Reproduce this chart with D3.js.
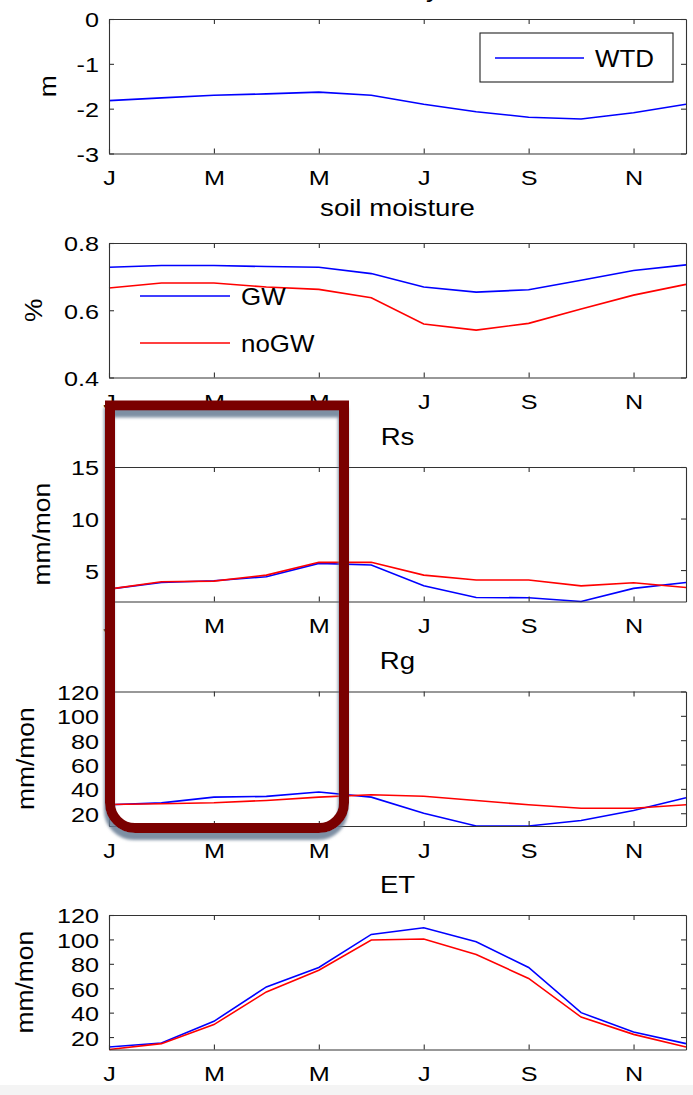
<!DOCTYPE html>
<html><head><meta charset="utf-8">
<script src="https://cdn.jsdelivr.net/npm/d3@7"></script>
<style>
html,body{margin:0;padding:0;background:#fff;}
svg{display:block;}
text{font-family:"Liberation Sans",Arial,Helvetica,sans-serif;fill:#000;}
</style></head>
<body><svg id="c" width="693" height="1095"></svg>
<script>
// ---- data ----
const months = [1,2,3,4,5,6,7,8,9,10,11,12];
const monthTicks = [1,3,5,7,9,11];
const monthLabels = ["J","M","M","J","S","N"];

const wtd    = [-1.82,-1.76,-1.70,-1.67,-1.63,-1.70,-1.90,-2.07,-2.19,-2.23,-2.09,-1.90];
const smGW   = [0.728,0.733,0.733,0.730,0.728,0.709,0.669,0.654,0.661,0.689,0.718,0.735];
const smNoGW = [0.666,0.681,0.681,0.669,0.662,0.637,0.559,0.541,0.561,0.604,0.645,0.677];
const rsGW   = [3.15,3.80,3.96,4.35,5.65,5.49,3.47,2.34,2.31,1.95,3.22,3.80];
const rsNoGW = [3.15,3.86,3.93,4.51,5.75,5.75,4.51,4.03,4.03,3.47,3.77,3.31];
const rgGW   = [26.9,28.5,33.2,33.8,37.4,33.2,20.0,9.5,9.5,14.0,22.2,32.7];
const rgNoGW = [27.2,27.8,28.6,30.5,33.2,35.2,34.0,30.5,26.9,24.1,24.1,26.9];
const etGW   = [11.8,15.1,32.9,61.1,77.0,104.1,109.6,98.1,77.0,40.0,24.1,14.6];
const etNoGW = [9.8,14.6,30.2,57.0,74.8,99.5,100.3,87.7,68.0,36.4,22.2,11.8];

const titles  = ["water table dynamics","soil moisture","Rs","Rg","ET"];
const yLabels = ["m","%","mm/mon","mm/mon","mm/mon"];
const yTicks  = [[-3,-2,-1,0],[0.4,0.6,0.8],[5,10,15],[20,40,60,80,100,120],[20,40,60,80,100,120]];
const legendGW = ["GW","noGW"];
const legendWTD = ["WTD"];

// ---- layout ----
const svg = d3.select("#c");
const BLUE = "#0000ff", RED = "#ff0000";
const left = 109, right = 686, boxH = 134.5;
const tops = [19, 243, 467, 691.5, 915];
const yLabelX = [56, 41.5, 50, 34, 33];
const x = d3.scaleLinear().domain([1,12]).range([left,right]);

svg.append("rect").attr("x",0).attr("y",1085).attr("width",693).attr("height",10).attr("fill","#f4f4f4");

const panels = [
  {series:[{v:wtd,c:BLUE}], domain:[-3,0], fmt:d=>String(d)},
  {series:[{v:smGW,c:BLUE},{v:smNoGW,c:RED}], domain:[0.4,0.8], fmt:d3.format(".1f")},
  {series:[{v:rsGW,c:BLUE},{v:rsNoGW,c:RED}], domain:[d3.min(rsGW.concat(rsNoGW)),15], fmt:String},
  {series:[{v:rgGW,c:BLUE},{v:rgNoGW,c:RED}], domain:[d3.min(rgGW.concat(rgNoGW)),120], fmt:String},
  {series:[{v:etGW,c:BLUE},{v:etNoGW,c:RED}], domain:[d3.min(etGW.concat(etNoGW)),120], fmt:String}
];

function stretch(sel, k){
  sel.each(function(){
    const t = d3.select(this);
    const xv = +t.attr("x") || 0;
    t.attr("x", xv/k).attr("transform", `scale(${k},1)`);
  });
}

panels.forEach((p,i)=>{
  const top = tops[i], bot = top + boxH;
  const y = d3.scaleLinear().domain(p.domain).range([bot, top]);
  const g = svg.append("g");

  // lines
  const line = d3.line().x((d,j)=>x(months[j])).y(d=>y(d));
  p.series.forEach(s=>{
    g.append("path").datum(s.v).attr("d", line).attr("fill","none")
      .attr("stroke", s.c).attr("stroke-width",1.6);
  });

  // axes (inward ticks, box)
  const ax = (gen, tr) => {
    const a = g.append("g").attr("transform", tr).call(gen);
    a.select(".domain").attr("stroke","#333").attr("stroke-width",1.1);
    a.selectAll(".tick line").attr("stroke","#333").attr("stroke-width",1.1);
    return a;
  };
  const bottomAx = ax(d3.axisBottom(x).tickValues(monthTicks).tickFormat((d,j)=>monthLabels[j])
      .tickSize(-5).tickSizeOuter(0).tickPadding(17), `translate(0,${bot})`);
  ax(d3.axisTop(x).tickValues(monthTicks).tickFormat("").tickSize(-5).tickSizeOuter(0), `translate(0,${top})`);
  const leftAx = ax(d3.axisLeft(y).tickValues(yTicks[i]).tickFormat(p.fmt)
      .tickSize(-5).tickSizeOuter(0).tickPadding(10), `translate(${left},0)`);
  ax(d3.axisRight(y).tickValues(yTicks[i]).tickFormat("").tickSize(-5).tickSizeOuter(0), `translate(${right},0)`);

  bottomAx.selectAll("text").attr("font-size",21).attr("dy","0.71em")
    .style("font-family",'"Liberation Sans",Arial,sans-serif').attr("fill","#000");
  stretch(bottomAx.selectAll("text"), 1.2);
  leftAx.selectAll("text").attr("font-size",21).attr("dy","0.38em")
    .style("font-family",'"Liberation Sans",Arial,sans-serif').attr("fill","#000");
  stretch(leftAx.selectAll("text"), 1.2);

  // title
  const tb = i===0 ? -3.5 : (i===1 ? 216 : top - 22.5);
  svg.append("text").attr("text-anchor","middle").attr("font-size",23)
    .attr("transform",`translate(${(left+right)/2},${tb}) scale(1.2,1)`).text(titles[i]);

  // y label
  svg.append("text").attr("text-anchor","middle").attr("font-size",24)
    .attr("transform",`translate(${yLabelX[i]},${(top+bot)/2}) rotate(-90) scale(1.1,1)`).text(yLabels[i]);
});

// legend panel 1
const lg1 = svg.append("g");
lg1.append("rect").attr("x",480).attr("y",33).attr("width",193).attr("height",49)
  .attr("fill","#fff").attr("stroke","#222").attr("stroke-width",1.1);
lg1.append("line").attr("x1",495).attr("x2",584).attr("y1",58).attr("y2",58).attr("stroke",BLUE).attr("stroke-width",1.6);
lg1.append("text").attr("font-size",24).attr("transform","translate(595,67) scale(1.08,1)").text(legendWTD[0]);

// legend panel 2
const lg2 = svg.append("g");
[[296,BLUE],[343,RED]].forEach((d,j)=>{
  lg2.append("line").attr("x1",140).attr("x2",230).attr("y1",d[0]).attr("y2",d[0]).attr("stroke",d[1]).attr("stroke-width",1.6);
  lg2.append("text").attr("font-size",24).attr("transform",`translate(241,${d[0]+9}) scale(1.08,1)`).text(legendGW[j]);
});

// highlight rectangle with drop shadow
const defs = svg.append("defs");
const f = defs.append("filter").attr("id","sh").attr("x","-10%").attr("y","-10%").attr("width","120%").attr("height","120%");
f.append("feDropShadow").attr("dx",-1).attr("dy",7).attr("stdDeviation",1.5)
  .attr("flood-color","#667b93").attr("flood-opacity",0.85);
const L=110, R=344, T=405.5, B=828, r=25;
svg.append("path")
  .attr("d",`M${L},${T} L${R},${T} L${R},${B-r} A${r},${r} 0 0 1 ${R-r},${B} L${L+r},${B} A${r},${r} 0 0 1 ${L},${B-r} Z`)
  .attr("fill","none").attr("stroke","#7a0000").attr("stroke-width",10)
  .attr("stroke-linejoin","miter").attr("filter","url(#sh)");
</script></body></html>
